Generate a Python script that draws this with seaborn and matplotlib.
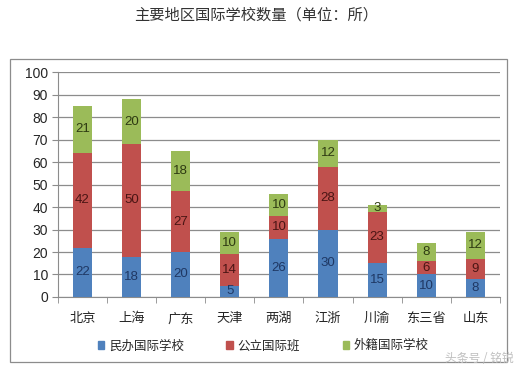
import numpy as np
import pandas as pd
import matplotlib
matplotlib.use("Agg")
import matplotlib.pyplot as plt
import seaborn as sns
from matplotlib.patches import Rectangle

# 数据
regions = ["北京", "上海", "广东", "天津", "两湖", "江浙", "川渝", "东三省", "山东"]
private = [22, 18, 20, 5, 26, 30, 15, 10, 8]
public = [42, 50, 27, 14, 10, 28, 23, 6, 9]
foreign = [21, 20, 18, 10, 10, 12, 3, 8, 12]
series_names = ["民办国际学校", "公立国际班", "外籍国际学校"]
y_ticks = [0, 10, 20, 30, 40, 50, 60, 70, 80, 90, 100]

colors = ["#4F81BD", "#C0504D", "#9BBB59"]
label_colors = ["#1F3864", "#4A1514", "#2E3A12"]

sns.set_style("white")
plt.rcParams['font.family'] = ['Noto Sans CJK SC', 'DejaVu Sans']
num_font = ['Liberation Sans', 'DejaVu Sans']

df = pd.DataFrame({"region": regions, "private": private,
                   "public": public, "foreign": foreign})
df["c1"] = df["private"]
df["c2"] = df["c1"] + df["public"]
df["c3"] = df["c2"] + df["foreign"]

fig = plt.figure(figsize=(5.16, 3.68), dpi=100)
ax = fig.add_axes([0.112, 0.193, 0.857, 0.611])

# 堆叠：先画总高度，再逐层覆盖
for col, c in zip(["c3", "c2", "c1"], colors[::-1]):
    sns.barplot(data=df, x="region", y=col, color=c, width=0.39,
                saturation=1, ax=ax, zorder=3, edgecolor="none")

# 数据标签
for i in range(len(regions)):
    bottoms = [0, df["c1"][i], df["c2"][i]]
    vals = [private[i], public[i], foreign[i]]
    for b, v, lc in zip(bottoms, vals, label_colors):
        ax.text(i, b + v / 2, str(v), ha="center", va="center",
                fontsize=9.5, color=lc, zorder=5, family=num_font)

ax.set_ylim(0, 100)
ax.set_xlim(-0.5, len(regions) - 0.5)
ax.set_yticks(y_ticks)
ax.set_yticklabels([str(t) for t in y_ticks], fontsize=10, family=num_font)
ax.set_xticks(range(len(regions)))
ax.set_xticklabels(regions, fontsize=9.5)
ax.set_xlabel("")
ax.set_ylabel("")
ax.yaxis.grid(True, color="#8c8c8c", linewidth=0.9, zorder=0)
ax.set_axisbelow(True)
for s in ["top", "right"]:
    ax.spines[s].set_visible(False)
ax.spines["left"].set_color("#8c8c8c")
ax.spines["bottom"].set_color("#8c8c8c")
ax.tick_params(axis="y", length=4, color="#8c8c8c", left=True, pad=3)
ax.tick_params(axis="x", length=0, pad=11)
# 分类之间的刻度线
ax.set_xticks(np.arange(-0.5, len(regions), 1), minor=True)
ax.tick_params(axis="x", which="minor", length=4, color="#8c8c8c", bottom=True)

fig.text(0.497, 0.958, "主要地区国际学校数量（单位：所）", ha="center",
         va="center", fontsize=11, color="#333333")

# 外框
fig.patches.append(Rectangle((10 / 516, 1 - 362 / 368), 497 / 516, 303 / 368,
                             transform=fig.transFigure, fill=False,
                             edgecolor="#8c8c8c", linewidth=0.9))

handles = [Rectangle((0, 0), 1, 1, color=c) for c in colors]
fig.legend(handles, series_names, loc="center", bbox_to_anchor=(0.51, 0.06),
           ncol=3, frameon=False, fontsize=9, handlelength=0.5,
           handleheight=0.5, columnspacing=3.4, handletextpad=0.4)

fig.text(0.996, 0.008, "头条号 / 铭锐", ha="right", va="bottom", fontsize=8.5,
         color="#c0c0c0", style="italic")

fig.savefig("out.png", dpi=100)
